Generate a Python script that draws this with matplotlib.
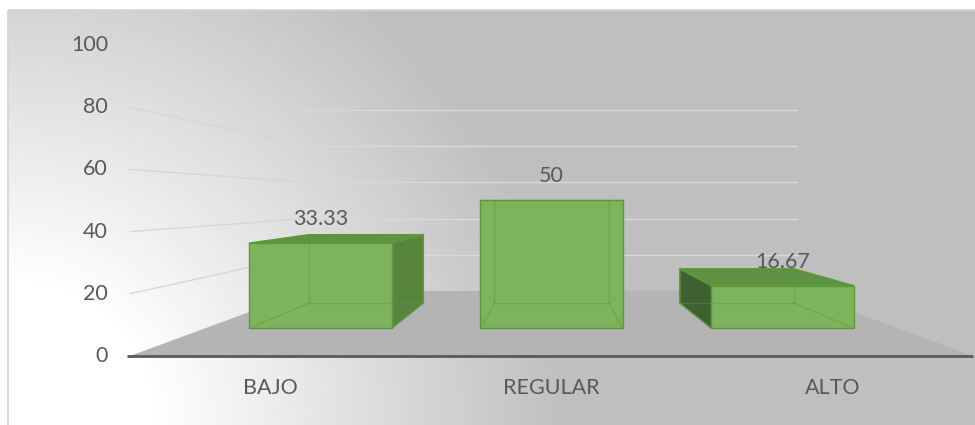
import numpy as np
import matplotlib
matplotlib.use('Agg')
import matplotlib.pyplot as plt
from matplotlib.patches import Polygon, Rectangle

# datos
categories = ['BAJO', 'REGULAR', 'ALTO']
values = [33.33, 50, 16.67]
value_labels = ['33.33', '50', '16.67']
y_ticks = [0, 20, 40, 60, 80, 100]

# perspectiva tipo Excel 3D
VP_C, VP_V = 1.0, 50.0          # punto de fuga (categoria, valor)
BACK_SCALE = 0.582              # escala de la pared del fondo
DEPTH_K = 1.0 / BACK_SCALE - 1.0
HALF_W = 0.308                  # media anchura de barra
Z0, Z1 = 0.30, 0.72             # profundidad de las barras

TXT = '#595959'
FONT = ['Lato', 'DejaVu Sans']
FS = 15.5


def proj(c, v, z):
    s = 1.0 / (1.0 + DEPTH_K * z)
    return VP_C + (c - VP_C) * s, VP_V + (v - VP_V) * s


fig = plt.figure(figsize=(9.75, 4.25), dpi=100)
fig.patch.set_facecolor('white')

# fondo con degradado (coordenadas de pixel)
bg = fig.add_axes([0, 0, 1, 1])
bg.set_xlim(0, 975)
bg.set_ylim(425, 0)
bg.axis('off')
xs = np.arange(8, 975) + 0.5
ys = np.arange(10, 425) + 0.5
X, Y = np.meshgrid(xs, ys)
r = np.hypot(X - 8, Y - 430)
g = np.clip(255 - (r - 150) * 0.156, 191, 255) / 255.0
bg.imshow(np.dstack([g, g, g]), extent=(8, 975, 425, 10), aspect='auto',
          interpolation='bilinear', zorder=0)
bg.add_patch(Rectangle((8, 10), 980, 430, fill=False, ec='#d4d4d4', lw=1.2, zorder=1))

# ejes del grafico
ax = fig.add_axes([0, 0, 1, 1])
ax.patch.set_alpha(0)
ax.set_xlim(-0.9626, 2.5071)
ax.set_ylim(-22.19, 114.47)
ax.axis('off')

left, right = -0.5, len(categories) - 0.5

# suelo
floor = [proj(left, 0, 0), proj(right, 0, 0), proj(right, 0, 1), proj(left, 0, 1)]
ax.add_patch(Polygon(floor, closed=True, fc='#b4b4b4', ec='none', zorder=2))

# lineas de division (pared izquierda y fondo)
for v in y_ticks[1:]:
    p0, p1, p2 = proj(left, v, 0), proj(left, v, 1), proj(right, v, 1)
    ax.plot([p0[0], p1[0]], [p0[1], p1[1]], color='#d6d6d6', lw=1.0, zorder=2)
    ax.plot([p1[0], p2[0]], [p1[1], p2[1]], color='#d9d9d9', lw=1.0, zorder=2)

# eje horizontal delantero
a0, a1 = proj(left - 0.01, 0, 0), proj(right, 0, 0)
ax.plot([a0[0], a1[0]], [a0[1], a1[1]], color='#595959', lw=2.0,
        solid_capstyle='butt', zorder=3)

# etiquetas del eje vertical
for v in y_ticks:
    ax.annotate(str(v), proj(left, v, 0), xytext=(-22, 0), textcoords='offset pixels',
                ha='right', va='center', color=TXT, fontsize=FS, family=FONT)

# barras 3D
FRONT = '#7db35c'
TOP = '#5f9243'
RIGHT_SIDE = '#58853e'
LEFT_SIDE = '#3f6131'
EDGE = '#5a9a38'

for i, v in enumerate(values):
    c0, c1 = i - HALF_W, i + HALF_W
    corner = {}
    for a, cc in (('l', c0), ('r', c1)):
        for b, vv in (('b', 0), ('t', v)):
            for d, zz in (('f', Z0), ('k', Z1)):
                corner[a + b + d] = proj(cc, vv, zz)

    faces = []
    if c1 < VP_C:
        faces.append((['rbf', 'rbk', 'rtk', 'rtf'], RIGHT_SIDE))
    if c0 > VP_C:
        faces.append((['lbf', 'lbk', 'ltk', 'ltf'], LEFT_SIDE))
    if v < VP_V - 1e-6:
        faces.append((['ltf', 'rtf', 'rtk', 'ltk'], TOP))
    faces.append((['lbf', 'rbf', 'rtf', 'ltf'], FRONT))

    for keys, col in faces:
        ax.add_patch(Polygon([corner[k] for k in keys], closed=True, fc=col,
                             ec=EDGE, lw=1.0, zorder=4))

    # aristas interiores visibles por transparencia
    edges = [('lbk', 'rbk'), ('rbk', 'rtk'), ('rtk', 'ltk'), ('ltk', 'lbk'),
             ('lbf', 'lbk'), ('rbf', 'rbk'), ('ltf', 'ltk'), ('rtf', 'rtk')]
    for e0, e1 in edges:
        p, q = corner[e0], corner[e1]
        ax.plot([p[0], q[0]], [p[1], q[1]], color=EDGE, lw=0.9, alpha=0.45, zorder=5)

    # etiqueta de datos
    ft = proj(i, v, Z0)
    ax.annotate(value_labels[i], ft, xytext=(0, 24), textcoords='offset pixels',
                ha='center', va='center', color=TXT, fontsize=FS, family=FONT, zorder=6)

    # etiqueta de categoria
    ax.annotate(categories[i], proj(i, 0, 0), xytext=(0, -32), textcoords='offset pixels',
                ha='center', va='center', color=TXT, fontsize=FS, family=FONT)

fig.savefig('out.png', dpi=100)
